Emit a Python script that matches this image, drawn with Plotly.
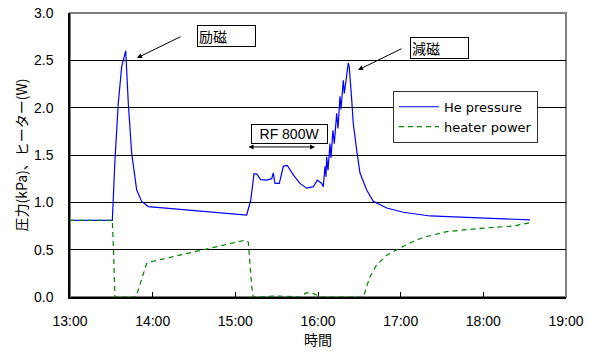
import plotly.graph_objects as go

# time in decimal hours
he_t = [13.000, 13.512, 13.544, 13.584, 13.625, 13.674, 13.705, 13.746, 13.807, 13.867, 13.947,
        15.137, 15.186, 15.226, 15.258, 15.307, 15.379, 15.440, 15.459, 15.480, 15.532, 15.580,
        15.629, 15.701, 15.782, 15.863, 15.943, 15.991, 16.045, 16.064, 16.085, 16.097, 16.105,
        16.121, 16.145, 16.157, 16.181, 16.197, 16.226, 16.242, 16.266, 16.278, 16.306, 16.318,
        16.366, 16.378, 16.408, 16.427, 16.468, 16.508, 16.589, 16.669, 16.831, 17.032, 17.355,
        17.757, 18.161, 18.564]
he_p = [0.81, 0.81, 1.45, 2.05, 2.43, 2.60, 2.05, 1.52, 1.13, 1.01, 0.955,
        0.866, 1.02, 1.30, 1.30, 1.24, 1.235, 1.25, 1.31, 1.20, 1.20, 1.38,
        1.39, 1.29, 1.20, 1.15, 1.165, 1.235, 1.20, 1.165, 1.38, 1.27, 1.48,
        1.34, 1.62, 1.47, 1.76, 1.62, 1.94, 1.78, 2.12, 1.98, 2.29, 2.15,
        2.47, 2.43, 2.08, 1.83, 1.55, 1.31, 1.13, 1.01, 0.94, 0.895, 0.856,
        0.84, 0.825, 0.815]

ht_t = [13.000, 13.512, 13.526, 13.544, 13.798, 13.928, 13.968, 15.117, 15.157, 15.198, 15.217,
        15.519, 15.782, 15.863, 15.943, 16.004, 16.048, 16.548, 16.629, 16.710, 16.831, 16.952,
        17.113, 17.274, 17.557, 17.960, 18.363, 18.564]
ht_w = [0.81, 0.81, 0.50, 0.0, 0.0, 0.355, 0.37, 0.60, 0.58, 0.11, 0.0,
        0.01, 0.0, 0.045, 0.035, 0.01, 0.0, 0.0, 0.215, 0.34, 0.44, 0.50,
        0.57, 0.63, 0.69, 0.725, 0.75, 0.785]

x_tickvals = [13, 14, 15, 16, 17, 18, 19]
x_ticktext = ["13:00", "14:00", "15:00", "16:00", "17:00", "18:00", "19:00"]
y_tickvals = [0, 0.5, 1.0, 1.5, 2.0, 2.5, 3.0]
y_ticktext = ["0.0", "0.5", "1.0", "1.5", "2.0", "2.5", "3.0"]

FONT = "Liberation Sans, Noto Sans CJK JP, sans-serif"
LFONT = "DejaVu Sans, sans-serif"
JFONT = "Noto Sans CJK JP, sans-serif"

fig = go.Figure()
fig.add_trace(go.Scatter(x=he_t, y=he_p, mode="lines", name="He pressure",
                         line=dict(color="#0000ff", width=1.2)))
fig.add_trace(go.Scatter(x=ht_t, y=ht_w, mode="lines", name="heater power",
                         line=dict(color="#008000", width=1.2, dash="5px,4px")))

fig.update_layout(
    width=589, height=354,
    margin=dict(l=70, r=23, t=13, b=57),
    paper_bgcolor="white", plot_bgcolor="white",
    font=dict(family=FONT, size=13, color="black"),
    showlegend=True,
    legend=dict(x=0.651, y=0.726, xanchor="left", yanchor="top",
                bgcolor="white", bordercolor="#333333", borderwidth=1,
                font=dict(size=13, family=LFONT), itemwidth=40,
                tracegroupgap=2),
    xaxis=dict(range=[13, 19], tickvals=x_tickvals, ticktext=x_ticktext,
               automargin=False,
               showgrid=False, zeroline=False, showline=True, linecolor="black",
               linewidth=1.5, ticks="inside", ticklen=5, tickcolor="black",
               ticklabelstandoff=10,
               tickfont=dict(size=14, family=FONT),
               title=dict(text="時間", font=dict(size=14, family=JFONT), standoff=2)),
    yaxis=dict(range=[0, 3], tickvals=y_tickvals, ticktext=y_ticktext,
               automargin=False,
               showgrid=True, gridcolor="black", gridwidth=1, zeroline=False,
               showline=True, linecolor="black", linewidth=1.5, ticks="",
               ticklabelstandoff=12,
               tickfont=dict(size=14, family=FONT),
               title=dict(text="圧力(kPa)、ヒーター(W)", font=dict(size=14, family=JFONT), standoff=3)),
)

# gray plot frame (top/right)
fig.add_shape(type="rect", xref="paper", yref="paper", x0=0, x1=1, y0=0, y1=1,
              line=dict(color="#808080", width=2), layer="below")

# arrows
fig.add_annotation(x=13.810, y=2.525, ax=14.355, ay=2.757, xref="x", yref="y",
                   axref="x", ayref="y", text="", showarrow=True, arrowhead=2,
                   arrowsize=1, arrowwidth=1, arrowcolor="black")
fig.add_annotation(x=16.484, y=2.398, ax=17.028, ay=2.63, xref="x", yref="y",
                   axref="x", ayref="y", text="", showarrow=True, arrowhead=2,
                   arrowsize=1, arrowwidth=1, arrowcolor="black")
fig.add_annotation(x=15.964, y=1.585, ax=15.141, ay=1.585, xref="x", yref="y",
                   axref="x", ayref="y", text="", showarrow=True, arrowhead=2,
                   startarrowhead=2, arrowside="end+start", arrowsize=1,
                   arrowwidth=1, arrowcolor="black")

# labelled boxes
fig.add_annotation(x=14.893, y=2.757, xref="x", yref="y", text="励磁", showarrow=False,
                   font=dict(size=14, family=JFONT), bgcolor="white", bordercolor="black",
                   borderwidth=1, width=55, height=18, align="left", borderpad=1)
fig.add_annotation(x=17.467, y=2.63, xref="x", yref="y", text="減磁", showarrow=False,
                   font=dict(size=14, family=JFONT), bgcolor="white", bordercolor="black",
                   borderwidth=1, width=55, height=18, align="left", borderpad=1)
fig.add_annotation(x=15.656, y=1.72, xref="x", yref="y", text="RF 800W", showarrow=False,
                   font=dict(size=14, family=FONT), bgcolor="white", bordercolor="black",
                   borderwidth=1, width=73, height=16, align="center", borderpad=1)

fig.write_html("out.html", post_script="document.body.style.margin='0px';",
               config={"displayModeBar": False})
